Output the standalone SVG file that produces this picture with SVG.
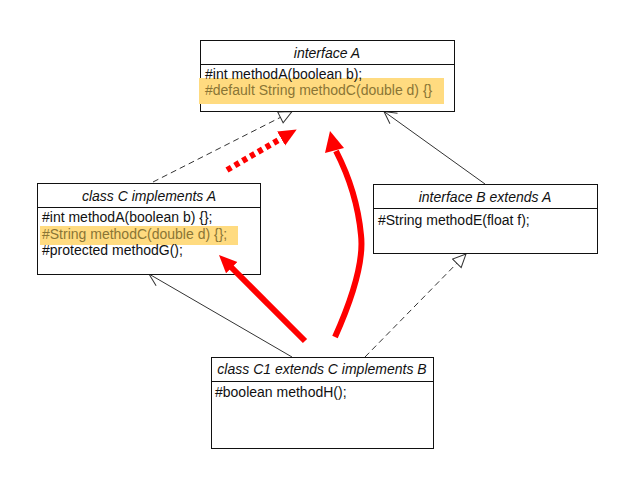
<svg xmlns="http://www.w3.org/2000/svg" width="632" height="489" viewBox="0 0 632 489">
<style>
.box{fill:#fff;stroke:#111;stroke-width:1}
.div{stroke:#111;stroke-width:1}
.t{font-family:"Liberation Sans",Arial,sans-serif;font-size:14px;fill:#111}
.ti{font-family:"Liberation Sans",Arial,sans-serif;font-size:14px;font-style:italic;fill:#111}
.hl{fill:#FFDB80}
.ht{fill:#8a7535}
.conn{fill:none;stroke:#333;stroke-width:1}
.dash{stroke-dasharray:6,4}
.red{fill:none;stroke:#ff0000;stroke-width:6}
</style>
<defs>
<marker id="tri" markerUnits="userSpaceOnUse" viewBox="-14 -7 15 14" markerWidth="15" markerHeight="14" refX="0" refY="0" orient="auto">
<path d="M0,0 L-13,-6 L-13,6 Z" fill="#fff" stroke="#333" stroke-width="1"/>
</marker>
<marker id="open" markerUnits="userSpaceOnUse" viewBox="-14 -8 15 16" markerWidth="15" markerHeight="16" refX="0" refY="0" orient="auto">
<path d="M-12,-6.5 L0,0 L-12,6.5" fill="none" stroke="#333" stroke-width="1"/>
</marker>
<marker id="redhead" markerUnits="userSpaceOnUse" viewBox="0 -9 20 18" markerWidth="20" markerHeight="18" refX="1" refY="0" orient="auto">
<path d="M0,-8 L18,0 L0,8 Z" fill="#ff0000"/>
</marker>
</defs>
<rect width="632" height="489" fill="#fff"/>

<g id="connectors">
<path class="conn dash" d="M153,182 L292,111.5" marker-end="url(#tri)"/>
<path class="conn" d="M485,184 L384,111.5" marker-end="url(#open)"/>
<path class="conn" d="M292,357 L149,274" marker-end="url(#open)"/>
<path class="conn dash" d="M365,357 L466,254" marker-end="url(#tri)"/>
</g>

<g id="interfaceA">
<rect class="box" x="200.5" y="40.5" width="254" height="71"/>
<line class="div" x1="200.5" y1="64.5" x2="454.5" y2="64.5"/>
<text class="ti" x="327" y="58" text-anchor="middle">interface A</text>
<rect class="hl" x="199" y="78" width="245" height="26"/>
<text class="t" x="205" y="79">#int methodA(boolean b);</text>
<text class="t ht" x="205" y="95">#default String methodC(double d) {}</text>
</g>

<g id="classC">
<rect class="box" x="37.5" y="183.5" width="223" height="91"/>
<line class="div" x1="37.5" y1="207.5" x2="260.5" y2="207.5"/>
<text class="ti" x="149" y="201" text-anchor="middle">class C implements A</text>
<rect class="hl" x="40" y="226" width="198" height="19"/>
<text class="t" x="42" y="222">#int methodA(boolean b) {};</text>
<text class="t ht" x="42" y="239">#String methodC(double d) {};</text>
<text class="t" x="42" y="255">#protected methodG();</text>
</g>

<g id="interfaceB">
<rect class="box" x="373.5" y="184.5" width="224" height="69"/>
<line class="div" x1="373.5" y1="208.5" x2="597.5" y2="208.5"/>
<text class="ti" x="485" y="202" text-anchor="middle">interface B extends A</text>
<text class="t" x="378" y="225">#String methodE(float f);</text>
</g>

<g id="classC1">
<rect class="box" x="211.5" y="357.5" width="222" height="91"/>
<line class="div" x1="211.5" y1="381.5" x2="433.5" y2="381.5"/>
<text class="ti" x="322" y="374" text-anchor="middle">class C1 extends C implements B</text>
<text class="t" x="215" y="397">#boolean methodH();</text>
</g>

<g id="red-arrows">
<path class="red" d="M227,170 L282,138" stroke-dasharray="5,4" marker-end="url(#redhead)"/>
<path class="red" d="M305,341 L231,267" marker-end="url(#redhead)"/>
<path class="red" d="M335,337 Q365,270 361,235 Q357,192 336,151"/>
<polygon points="330,131 344,148 325,153" fill="#ff0000"/>
</g>
</svg>
